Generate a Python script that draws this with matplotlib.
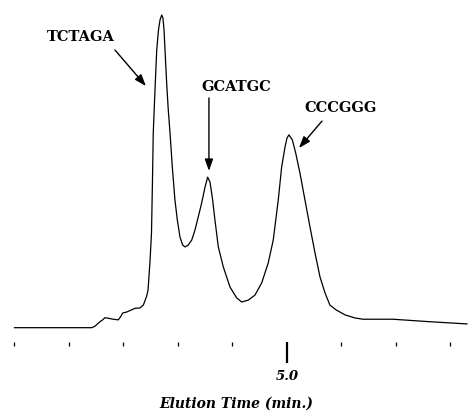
import numpy as np
import matplotlib
matplotlib.use("Agg")
import matplotlib.pyplot as plt

# chromatogram trace (time in min, signal in % of top peak)
time = [2.50, 2.73, 3.21, 3.239, 3.284, 3.309, 3.330, 3.361, 3.406, 3.452,
        3.474, 3.493, 3.529, 3.575, 3.606, 3.651, 3.682, 3.713, 3.725, 3.743,
        3.757, 3.766, 3.773, 3.789, 3.805, 3.821, 3.835, 3.851, 3.862, 3.872,
        3.881, 3.896, 3.911, 3.927, 3.948, 3.972, 3.994, 4.018, 4.043, 4.064,
        4.094, 4.126, 4.156, 4.186, 4.217, 4.248, 4.272, 4.294, 4.318, 4.339,
        4.370, 4.416, 4.477, 4.539, 4.584, 4.645, 4.706, 4.768, 4.828, 4.874,
        4.920, 4.951, 4.982, 5.000, 5.018, 5.049, 5.080, 5.119, 5.165, 5.211,
        5.257, 5.303, 5.349, 5.394, 5.450, 5.532, 5.624, 5.697, 5.972, 6.312,
        6.651]
signal = [0.1, 0.1, 0.1, 0.6, 2.0, 2.6, 3.3, 3.1, 2.8, 2.6,
          3.6, 4.8, 5.1, 5.8, 6.3, 6.4, 7.3, 10.2, 12.1, 21.1,
          30.4, 47.3, 62.3, 76.0, 88.8, 95.2, 98.4, 100.0, 99.0, 95.2,
          88.8, 78.3, 69.6, 62.3, 51.4, 40.9, 34.5, 29.1, 26.5, 25.9,
          26.5, 28.1, 31.3, 35.5, 39.9, 45.0, 48.2, 46.6, 40.9, 34.5,
          25.9, 19.5, 13.1, 9.6, 8.3, 8.9, 10.5, 14.4, 20.8, 28.1,
          40.9, 51.4, 57.8, 60.7, 61.7, 60.1, 55.9, 49.5, 40.9, 32.3,
          24.0, 16.3, 11.2, 7.3, 5.8, 4.2, 3.2, 2.8, 2.8, 2.0,
          1.3]

peak_names = ["TCTAGA", "GCATGC", "CCCGGG"]
arrow_tips = [(3.706, 77.3), (4.284, 50.2), (5.110, 57.5)]
arrow_tails = [(3.422, 88.8), (4.284, 73.5), (5.321, 66.1)]
label_pos = [(3.110, 93.0), (4.532, 77.0), (5.495, 70.3)]

minor_ticks = [2.5, 3.0, 3.5, 4.0, 4.5, 5.5, 6.0, 6.5]
major_ticks = [5.0]

xmin, xmax = 2.367, 6.670

fig = plt.figure(figsize=(4.69, 4.12), dpi=100)
ax = fig.add_axes([0, 0, 1, 1])
ax.plot(time, signal, color="black", lw=0.9, solid_joinstyle="round")
ax.set_xlim(xmin, xmax)
ax.set_ylim(-26.84, 104.79)
ax.axis("off")

for name, tip, tail, pos in zip(peak_names, arrow_tips, arrow_tails, label_pos):
    ax.annotate("", xy=tip, xytext=tail,
                arrowprops=dict(arrowstyle="-|>,head_length=0.7,head_width=0.25",
                                color="black", lw=1.0, shrinkA=0, shrinkB=0))
    ax.text(pos[0], pos[1], name, ha="center", va="center",
            family="DejaVu Serif", weight="bold", fontsize=10.5)

# separate row of tick marks under the trace
tax = fig.add_axes([0, 1 - 342 / 412, 1, 0.0001])
tax.set_xlim(xmin, xmax)
tax.set_yticks([])
for s in tax.spines.values():
    s.set_visible(False)
tax.set_xticks(major_ticks)
tax.set_xticklabels(["5.0"], family="DejaVu Serif", style="italic",
                    weight="bold", fontsize=9.5)
tax.set_xticks(minor_ticks, minor=True)
tax.tick_params(axis="x", which="major", direction="out", length=15, width=1.6,
                pad=5)
tax.tick_params(axis="x", which="minor", direction="out", length=3, width=0.9)

fig.text(236 / 469, 1 - 404 / 412, "Elution Time (min.)", ha="center",
         va="center", family="DejaVu Serif", style="italic", weight="bold",
         fontsize=10)

plt.savefig("out.png", dpi=100)
plt.close()
